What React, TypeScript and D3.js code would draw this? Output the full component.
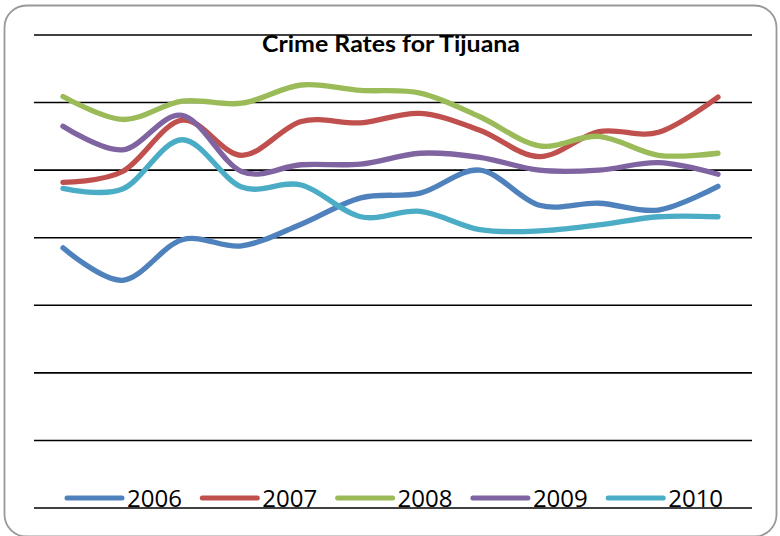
import React from "react";
import * as d3 from "d3";

const months = ["Jan", "Feb", "Mar", "Apr", "May", "Jun", "Jul", "Aug", "Sep", "Oct", "Nov", "Dec"];
const seriesNames = ["2006", "2007", "2008", "2009", "2010"];
const s2006 = [38.5, 33.7, 39.7, 38.8, 42.0, 45.9, 46.6, 50.0, 44.8, 45.1, 44.1, 47.6];
const s2007 = [48.2, 49.8, 57.4, 52.2, 57.2, 57.0, 58.4, 55.9, 52.0, 55.7, 55.6, 60.8];
const s2008 = [60.9, 57.5, 60.2, 59.9, 62.6, 61.8, 61.4, 57.9, 53.6, 55.0, 52.2, 52.5];
const s2009 = [56.5, 53.0, 58.1, 49.8, 50.8, 50.9, 52.5, 51.9, 50.0, 50.0, 51.1, 49.4];
const s2010 = [47.3, 47.2, 54.5, 47.5, 47.8, 43.1, 43.9, 41.2, 41.0, 41.9, 43.1, 43.1];
const gridTicks = [0, 10, 20, 30, 40, 50, 60, 70];
const colors = ["#4F81BD", "#C0504D", "#9BBB59", "#8064A2", "#4BACC6"];

export default function App() {
  const W = 780;
  const H = 536;
  const allSeries = [s2006, s2007, s2008, s2009, s2010];
  const x = d3.scalePoint<string>().domain(months).range([63, 718]);
  const y = d3.scaleLinear().domain([0, 70]).range([508, 35]);
  const line = d3
    .line<number>()
    .x((_, i) => x(months[i]) as number)
    .y((d) => y(d))
    .curve(d3.curveCardinal.tension(0));

  const legendX0 = 67;
  const legendStep = 135.3;
  const legendY = 498;

  return (
    <svg
      width={W}
      height={H}
      style={{ position: "absolute", left: 0, top: 0, background: "#fff" }}
      fontFamily="'Open Sans', sans-serif"
    >
      <rect x={4.5} y={5.5} width={772} height={531} rx={22} ry={22} fill="#fff" stroke="#989898" strokeWidth={1.8} />
      {gridTicks.map((t) => (
        <line key={t} x1={34} x2={752} y1={y(t)} y2={y(t)} stroke="#000" strokeWidth={1.6} />
      ))}
      <text x={391} y={52} textAnchor="middle" fontFamily="Lato, sans-serif" fontSize={22} fontWeight="bold" fill="#000" textLength={258} lengthAdjust="spacingAndGlyphs">
        Crime Rates for Tijuana
      </text>
      {allSeries.map((s, i) => (
        <path key={seriesNames[i]} d={line(s) || ""} fill="none" stroke={colors[i]} strokeWidth={5.3} strokeLinecap="round" strokeLinejoin="round" />
      ))}
      {seriesNames.map((n, i) => {
        const lx = legendX0 + i * legendStep;
        return (
          <g key={n}>
            <line x1={lx} x2={lx + 55} y1={legendY} y2={legendY} stroke={colors[i]} strokeWidth={5} strokeLinecap="round" />
            <text x={lx + 60} y={506.5} fontSize={24} fill="#000">
              {n}
            </text>
          </g>
        );
      })}
    </svg>
  );
}
